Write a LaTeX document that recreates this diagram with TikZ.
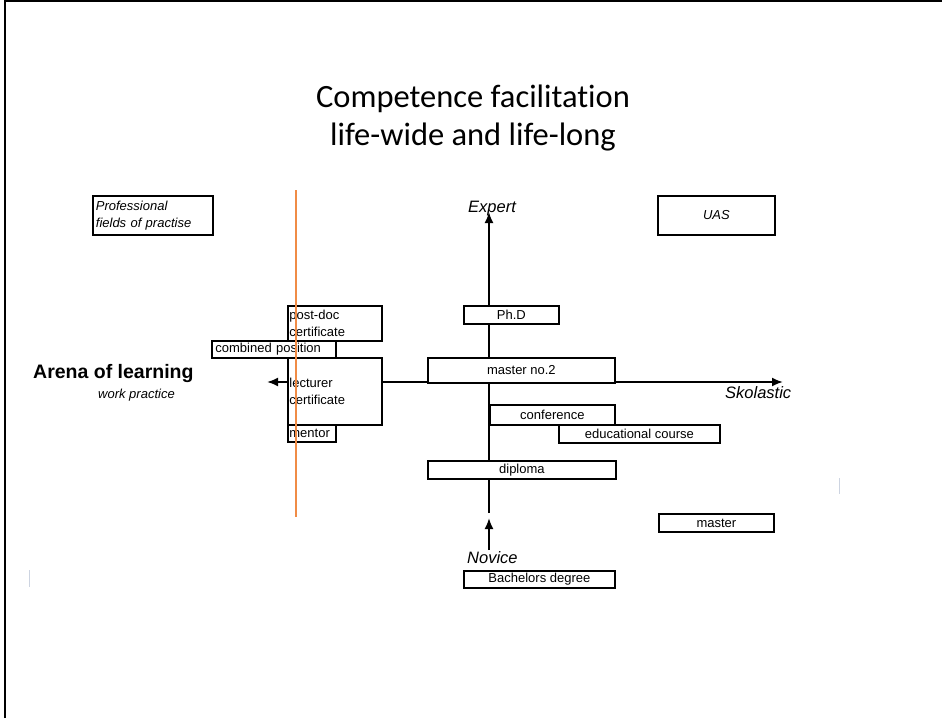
\documentclass[tikz,border=0pt]{standalone}
\usepackage{fontspec}
\setmainfont{Liberation Sans}
\newfontfamily\titlefont[RawFeature=-liga]{Carlito}
\usetikzlibrary{arrows.meta,backgrounds}
\definecolor{ruleorange}{RGB}{240,140,70}
\definecolor{tickgray}{RGB}{205,212,225}
\begin{document}
\begin{tikzpicture}[x=1pt,y=-1pt,
  box/.style={draw=black, line width=1.8pt, fill=white, inner sep=0pt,
    font=\fontsize{13}{17}\selectfont, anchor=north west},
  lbox/.style={box, align=left, inner ysep=0pt},
  axisline/.style={line width=1.9pt},
  headed/.style={-{Latex[length=11pt,width=9pt]}},
  axtext/.style={inner sep=0pt, font=\fontsize{16.5}{20}\selectfont\itshape, anchor=base west}]
\useasboundingbox (0,0) rectangle (942,718);

% slide frame
\draw[line width=2pt] (5,718) -- (5,1) -- (942,1);

% title
\node[align=center, font=\titlefont\fontsize{32.5}{38}\selectfont] (title) at (473,118)
  {Competence facilitation\\life-wide and life-long};

% corner boxes
\node[lbox, inner xsep=3pt, text width=114pt, minimum height=39pt, font=\fontsize{13}{17}\selectfont\itshape]
  (prof) at (92,195) {Professional\\fields of practise};
\node[box, minimum width=117pt, minimum height=39pt, font=\fontsize{13}{17}\selectfont\itshape]
  (uas) at (657,195) {UAS};

% work-practice side
\node[lbox, inner xsep=1.5pt, text width=91pt, minimum height=35pt] (postdoc) at (287,305) {post-doc\\certificate};
\node[lbox, inner xsep=3.5pt, text width=117pt, minimum height=17pt] (combined) at (211,340) {combined position};
\node[lbox, inner xsep=1.5pt, text width=91pt, minimum height=67pt] (lecturer) at (287,357) {lecturer\\certificate};
\node[lbox, inner xsep=1.5pt, text width=45pt, minimum height=17pt] (mentor) at (287,424) {mentor};

% scholastic side
\node[box, minimum width=95pt, minimum height=18pt] (phd) at (463,305) {Ph.D};
\node[box, minimum width=187pt, minimum height=25pt, text depth=-3pt] (master2) at (427,357) {master no.2};
\node[box, minimum width=125pt, minimum height=20pt] (conf) at (489,404) {conference};
\node[box, minimum width=161pt, minimum height=18pt] (course) at (558,424) {educational course};
\node[box, minimum width=188pt, minimum height=18pt] (diploma) at (427,460) {diploma};
\node[box, minimum width=115pt, minimum height=18pt] (master) at (658,513) {master};
\node[box, minimum width=151pt, minimum height=17pt] (bachelor) at (463,570) {Bachelors degree};

% axis labels
\node[axtext] (expert) at (468,212) {Expert};
\node[axtext] (skolastic) at (725,398) {Skolastic};
\node[axtext] (novice) at (467,563) {Novice};
\node[inner sep=0pt, anchor=base west, font=\fontsize{19.5}{23}\selectfont\bfseries] (arena) at (33,378) {Arena of learning};
\node[inner sep=0pt, anchor=base west, font=\fontsize{13}{16}\selectfont\itshape] (work) at (98,398) {work practice};

% axes
\coordinate (ytop) at (489,212);
\coordinate (ybot) at (489,513);
\coordinate (xright) at (783,382);
\coordinate (xleft) at (267,382);
\coordinate (novbase) at (489,550);
\coordinate (novtip) at (489,518);
\begin{scope}[on background layer]
  \draw[axisline, headed] (ybot) -- (ytop);
  \draw[axisline, headed] (lecturer.east |- xright) -- (xright);
\end{scope}
\draw[axisline, headed] (lecturer.west |- xleft) -- (xleft);
\draw[axisline, headed] (novbase) -- (novtip);

% divider between practice and school
\coordinate (ruletop) at (296,190);
\coordinate (rulebot) at (296,517);
\draw[ruleorange, line width=1.5pt] (ruletop) -- (rulebot);

% faint marks
\coordinate (ticka1) at (839,478);
\coordinate (ticka2) at (839,494);
\coordinate (tickb1) at (29,570);
\coordinate (tickb2) at (29,587);
\draw[tickgray, line width=1pt] (ticka1) -- (ticka2);
\draw[tickgray, line width=1pt] (tickb1) -- (tickb2);
\end{tikzpicture}
\end{document}
